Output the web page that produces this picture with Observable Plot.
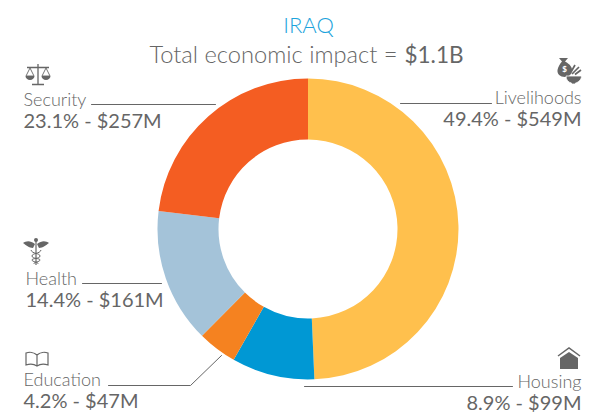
<!DOCTYPE html>
<html>
<head>
<meta charset="utf-8">
<script src="https://cdn.jsdelivr.net/npm/d3@7"></script>
<script src="https://cdn.jsdelivr.net/npm/@observablehq/plot@0.6"></script>
<style>html,body{margin:0;padding:0;background:#fff}svg{display:block}</style>
</head>
<body>
<div id="chart"></div>
<script>
const sectors = ["Livelihoods", "Housing", "Education", "Health", "Security"];
const shares = [49.4, 8.9, 4.2, 14.4, 23.1];
const amounts = [549, 99, 47, 161, 257];
const colors = ["#FFC04D", "#0098D4", "#F58220", "#A4C3D9", "#F45D22"];

const W = 595, H = 414, cx = 308, cy = 229, outer = 150.500, inner = 89.500;
const ink = "#666666", font = "Lato, sans-serif";

const slices = sectors.map((sector, i) => ({sector, amount: amounts[i]}));

// layout of each label: text anchor point and leader polyline, in page pixels
const layout = {
  Livelihoods: {x: 581, y: 98, anchor: "end", leader: [[400, 103], [491, 103]], icon: "money", ix: 569, iy: 70},
  Housing: {x: 581, y: 382, anchor: "end", leader: [[304, 386], [512, 386]], icon: "house", ix: 569, iy: 359},
  Education: {x: 23, y: 380, anchor: "start", leader: [[221, 355], [190, 385], [108, 385]], icon: "book", ix: 37, iy: 359},
  Health: {x: 25, y: 279, anchor: "start", leader: [[161, 283], [82, 283]], icon: "health", ix: 36, iy: 250},
  Security: {x: 23, y: 100, anchor: "start", leader: [[215, 104], [91, 104]], icon: "scales", ix: 38, iy: 74}
};

const icons = {
  scales: `<g fill="none" stroke="${ink}" stroke-width="1.3"><path d="M0-10V10M-6 10.5H6M-11-6.5H11"/><path d="M-8-6 -12 2H-4ZM8-6 4 2H12Z" stroke-width=".9"/><path d="M-12.5 2A4.5 4 0 0 0-3.5 2ZM3.5 2A4.5 4 0 0 0 12.5 2Z" fill="${ink}" stroke="none"/></g>`,
  money: `<g fill="${ink}"><path d="M-10-12H-1L-4-8.500C1-6 4-2 3 2 2 5-1 7-4 7-9 7-12 4-11.500 0-11-3-9-6.500-7-8.500Z"/><path d="M-3 6H12.500C12.500 10 9 12.500 6.500 13V14H2.500V13C-0.500 12.500-3 10-3 6Z" stroke="#fff" stroke-width=".8"/><path d="M3 4 10-3M6 4.500 12 0M2 2 6-5" stroke="${ink}" stroke-width="1.700" fill="none"/></g><text x="-4.500" y="2" font-size="8" font-family="${font}" font-weight="900" fill="#fff" text-anchor="middle">$</text>`,
  health: `<g fill="${ink}" stroke="${ink}"><path d="M0-10V15" stroke-width="1.200"/><path d="M-1-6C-6-10-10-9-13-7-10-5-7-2-3-2Z M1-6C6-10 10-9 13-7 10-5 7-2 3-2Z" stroke="none"/><circle cy="-10" r="2" stroke="none"/><path d="M-5 0C-4 4 4 3 4 6S-4 8-4 10 3 12 2 14M5 0C4 4-4 3-4 6S4 8 4 10-3 12-2 14" fill="none" stroke-width="1"/></g>`,
  book: `<g fill="none" stroke="${ink}" stroke-width="1.200"><path d="M0-4C-3-7-8-7-11-6V6C-8 5-3 5 0 7 3 5 8 5 11 6V-6C8-7 3-7 0-4ZM0-4V7"/></g>`,
  house: `<g fill="${ink}"><path d="M-11-3 0-11 11-3" fill="none" stroke="${ink}" stroke-width="1.500"/><path d="M-9-1 0-7 9-1V10H-9Z"/></g>`
};

function iconMark(name, x, y) {
  return () => d3.create("svg:g").attr("transform", `translate(${x},${y})`).html(icons[name]).node();
}

const px = (value) => ({value, scale: null});

const marks = [
  // donut: a stacked bar whose x scale yields angles, drawn round the centre
  Plot.barX(slices, {
    x: "amount",
    fill: (d) => d.sector,
    order: null,
    render(index, scales, values) {
      const arc = d3.arc().innerRadius(inner).outerRadius(outer);
      const g = d3.create("svg:g").attr("transform", `translate(${cx},${cy})`);
      for (const i of index) {
        g.append("path")
          .attr("d", arc({startAngle: values.x1[i], endAngle: values.x2[i]}))
          .attr("fill", colors[i]);
      }
      return g.node();
    }
  })
];

sectors.forEach((sector, i) => {
  const l = layout[sector];
  marks.push(Plot.line(l.leader, {
    x: px(l.leader.map((p) => p[0])),
    y: px(l.leader.map((p) => p[1])),
    stroke: "#666666",
    strokeWidth: 1,
    curve: "linear"
  }));
  marks.push(Plot.text([sector], {
    x: px([l.x]), y: px([l.y]), text: (d) => d,
    textAnchor: l.anchor, fontSize: 18, fontWeight: 300, fill: ink, fontFamily: font
  }));
  marks.push(Plot.text([`${shares[i]}% - $${amounts[i]}M`], {
    x: px([l.x]), y: px([l.y + 21]), text: (d) => d,
    textAnchor: l.anchor, fontSize: 20, fontWeight: 400, fill: ink, fontFamily: font
  }));
  marks.push(iconMark(l.icon, l.ix, l.iy));
});

marks.push(Plot.text(["IRAQ"], {
  x: px([308]), y: px([25]), text: (d) => d, fontSize: 22, fontWeight: 300,
  fill: "#1BA3DC", fontFamily: font
}));
marks.push(Plot.text(["Total economic impact ="], {
  x: px([397]), y: px([55]), text: (d) => d, textAnchor: "end", fontSize: 23.700, fontWeight: 300,
  fill: ink, fontFamily: font
}));
marks.push(Plot.text(["$1.1B"], {
  x: px([404]), y: px([55]), text: (d) => d, textAnchor: "start", fontSize: 22.500, fontWeight: 400,
  fill: ink, fontFamily: font
}));

const chart = Plot.plot({
  width: W, height: H,
  margin: 0,
  style: {background: "#fff", overflow: "visible"},
  x: {domain: [0, d3.sum(amounts)], range: [0, 2 * Math.PI], axis: null},
  y: {axis: null},
  color: {domain: sectors, range: colors},
  marks
});
document.getElementById("chart").append(chart);
</script>
</body>
</html>
